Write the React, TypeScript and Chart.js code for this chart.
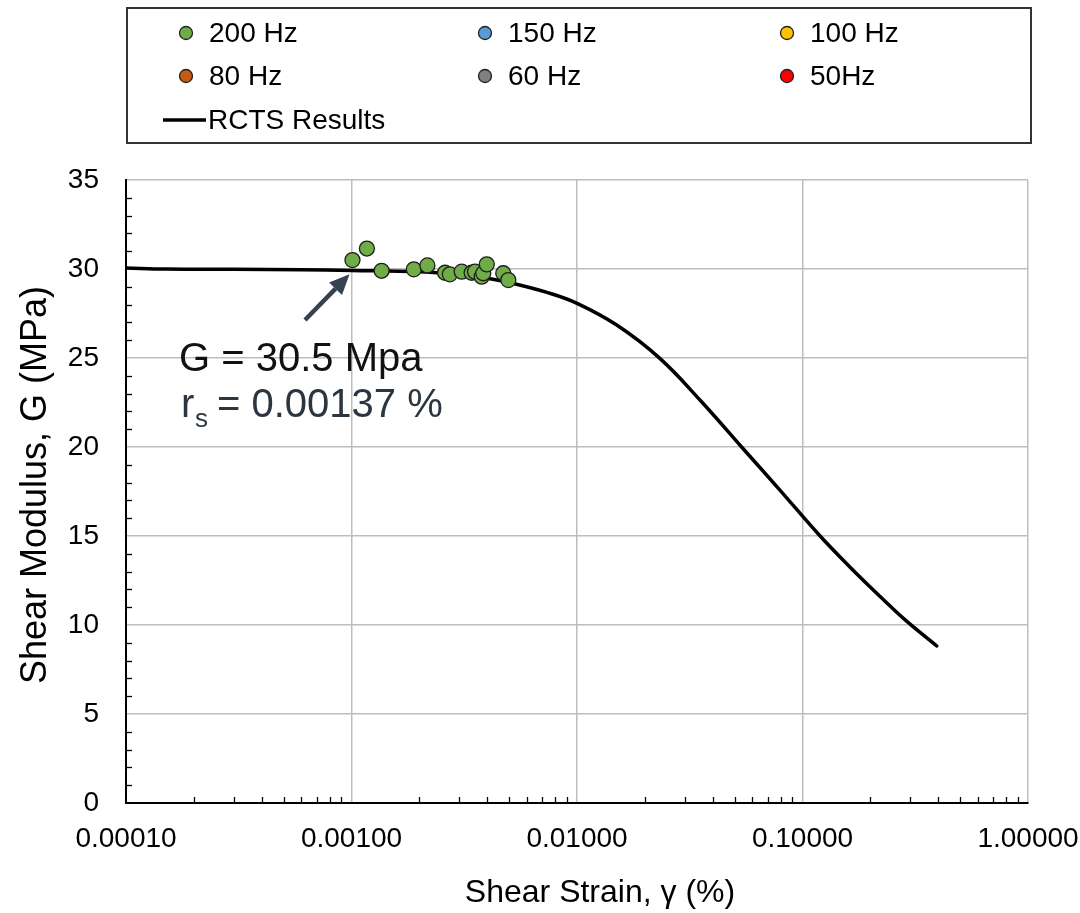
import React, { useEffect, useRef } from "react";
import { Chart, registerables } from "chart.js";

Chart.register(...registerables);

// ---- data ----
const strain200 = [0.00101, 0.00117, 0.00136, 0.00189, 0.00217, 0.0026, 0.00273, 0.00308, 0.00341, 0.00353, 0.00378, 0.00384, 0.00398, 0.00471, 0.00496];
const modulus200 = [30.5, 31.15, 29.9, 29.98, 30.2, 29.79, 29.7, 29.85, 29.79, 29.85, 29.57, 29.76, 30.26, 29.76, 29.38];
const strain150: number[] = [];
const modulus150: number[] = [];
const strain100: number[] = [];
const modulus100: number[] = [];
const strain80: number[] = [];
const modulus80: number[] = [];
const strain60: number[] = [];
const modulus60: number[] = [];
const strain50: number[] = [];
const modulus50: number[] = [];

const rctsStrain = [0.0001, 0.00015, 0.0003, 0.0006, 0.001, 0.002, 0.003, 0.004, 0.005, 0.0076, 0.01, 0.015, 0.0233, 0.0351, 0.0537, 0.0794, 0.1197, 0.1626, 0.221, 0.2844, 0.394];
const rctsG = [30.06, 30.0, 29.98, 29.96, 29.92, 29.85, 29.67, 29.48, 29.24, 28.63, 28.07, 26.85, 24.98, 22.64, 20.0, 17.58, 15.0, 13.25, 11.6, 10.3, 8.82];

const yTickLabels = [0, 5, 10, 15, 20, 25, 30, 35];
const xTickLabels = [0.0001, 0.001, 0.01, 0.1, 1];

const FONT = "'Liberation Sans', Arial, sans-serif";

const pts = (xs: number[], ys: number[]) => xs.map((x, i) => ({ x, y: ys[i] }));
const isDecade = (v: number) => Math.abs(Math.log10(v) - Math.round(Math.log10(v))) < 1e-9;

const decorPlugin = {
  id: "decor",
  afterDraw(chart: any) {
    const ctx = chart.ctx as CanvasRenderingContext2D;
    const xs = chart.scales.x;
    const ys = chart.scales.y;
    const area = chart.chartArea;
    ctx.save();

    // minor ticks (inward)
    ctx.strokeStyle = "#000";
    ctx.lineWidth = 1.3;
    for (let d = -4; d < 0; d++) {
      for (let m = 2; m <= 9; m++) {
        const px = Math.round(xs.getPixelForValue(m * Math.pow(10, d))) + 0.5;
        ctx.beginPath();
        ctx.moveTo(px, area.bottom);
        ctx.lineTo(px, area.bottom - 6);
        ctx.stroke();
      }
    }
    for (let v = 1; v < 35; v++) {
      if (v % 5 === 0) continue;
      const py = Math.round(ys.getPixelForValue(v)) + 0.5;
      ctx.beginPath();
      ctx.moveTo(area.left, py);
      ctx.lineTo(area.left + 6, py);
      ctx.stroke();
    }

    // legend box
    ctx.strokeStyle = "#333";
    ctx.lineWidth = 2;
    ctx.strokeRect(127, 8, 904, 135);
    const cols = [186, 485, 787];
    const rows = [33, 76, 120];
    ctx.font = `28px ${FONT}`;
    ctx.textBaseline = "middle";
    ctx.textAlign = "left";
    chart.data.datasets.forEach((ds: any, i: number) => {
      const r = Math.floor(i / 3);
      const c = i % 3;
      const cx = cols[c];
      const cy = rows[r];
      if (ds.showLine) {
        ctx.strokeStyle = "#000";
        ctx.lineWidth = 3.5;
        ctx.beginPath();
        ctx.moveTo(163, cy);
        ctx.lineTo(206, cy);
        ctx.stroke();
        ctx.fillStyle = "#000";
        ctx.fillText(ds.label, 208, cy + 1);
      } else {
        ctx.beginPath();
        ctx.arc(cx, cy, 6.5, 0, Math.PI * 2);
        ctx.fillStyle = ds.backgroundColor;
        ctx.fill();
        ctx.lineWidth = 1.3;
        ctx.strokeStyle = "#222";
        ctx.stroke();
        ctx.fillStyle = "#000";
        ctx.fillText(ds.label, cx + 23, cy + 1);
      }
    });

    // axis titles
    ctx.fillStyle = "#000";
    ctx.font = `32px ${FONT}`;
    ctx.textAlign = "center";
    ctx.textBaseline = "middle";
    ctx.fillText("Shear Strain, \u03b3 (%)", 600, 893);
    ctx.save();
    ctx.translate(36, 485);
    ctx.rotate(-Math.PI / 2);
    ctx.font = `36px ${FONT}`;
    ctx.fillText("Shear Modulus, G (MPa)", 0, 0);
    ctx.restore();

    // annotation arrow
    const tipX = xs.getPixelForValue(0.00098);
    const tipY = ys.getPixelForValue(29.7);
    const tailX = 305;
    const tailY = 320;
    const ang = Math.atan2(tipY - tailY, tipX - tailX);
    const headLen = 20;
    const baseX = tipX - headLen * Math.cos(ang);
    const baseY = tipY - headLen * Math.sin(ang);
    ctx.strokeStyle = "#36424f";
    ctx.fillStyle = "#36424f";
    ctx.lineWidth = 4.5;
    ctx.beginPath();
    ctx.moveTo(tailX, tailY);
    ctx.lineTo(baseX, baseY);
    ctx.stroke();
    ctx.beginPath();
    ctx.moveTo(tipX, tipY);
    ctx.lineTo(baseX + 9 * Math.sin(ang), baseY - 9 * Math.cos(ang));
    ctx.lineTo(baseX - 9 * Math.sin(ang), baseY + 9 * Math.cos(ang));
    ctx.closePath();
    ctx.fill();

    // annotation text
    ctx.textAlign = "left";
    ctx.textBaseline = "alphabetic";
    ctx.fillStyle = "#111";
    ctx.font = `40px ${FONT}`;
    ctx.fillText("G = 30.5 Mpa", 179, 371);
    ctx.fillStyle = "#2b3640";
    ctx.fillText("r", 181, 417);
    ctx.font = `26px ${FONT}`;
    ctx.fillText("s", 195, 427);
    ctx.font = `40px ${FONT}`;
    ctx.fillText("= 0.00137 %", 217, 417);

    ctx.restore();
  },
};

export default function App() {
  const ref = useRef<HTMLCanvasElement | null>(null);
  useEffect(() => {
    if (!ref.current) return;
    const markerDs = (label: string, xs: number[], ys: number[], color: string) => ({
      label,
      data: pts(xs, ys),
      backgroundColor: color,
      borderColor: "#1e1e1e",
      borderWidth: 1.3,
      pointRadius: 7.5,
      showLine: false,
    });
    const chart = new Chart(ref.current, {
      type: "scatter",
      data: {
        datasets: [
          markerDs("200 Hz", strain200, modulus200, "#70ad47"),
          markerDs("150 Hz", strain150, modulus150, "#5b9bd5"),
          markerDs("100 Hz", strain100, modulus100, "#ffc000"),
          markerDs("80 Hz", strain80, modulus80, "#c55a11"),
          markerDs("60 Hz", strain60, modulus60, "#7f7f7f"),
          markerDs("50Hz", strain50, modulus50, "#ff0000"),
          {
            label: "RCTS Results",
            data: pts(rctsStrain, rctsG),
            showLine: true,
            borderColor: "#000",
            backgroundColor: "#000",
            borderWidth: 3.5,
            pointRadius: 0,
            tension: 0.4,
            borderCapStyle: "round",
          } as any,
        ],
      },
      options: {
        responsive: false,
        animation: false,
        devicePixelRatio: 1,
        layout: { padding: { top: 180, right: 52, left: 0, bottom: 0 } },
        plugins: { legend: { display: false }, tooltip: { enabled: false }, title: { display: false } },
        scales: {
          x: {
            type: "logarithmic",
            min: 0.0001,
            max: 1,
            afterBuildTicks: (scale: any) => {
              const t: any[] = [];
              for (let d = -4; d < 0; d++) for (let m = 1; m <= 9; m++) t.push({ value: m * Math.pow(10, d) });
              t.push({ value: 1 });
              scale.ticks = t;
            },
            afterFit: (scale: any) => {
              scale.height = 110;
              scale.paddingLeft = 0;
              scale.paddingRight = 0;
            },
            grid: {
              drawTicks: false,
              lineWidth: 1.5,
              color: (c: any) => (c.tick && isDecade(c.tick.value) && c.tick.value > 0.00011 ? "#bdbdbd" : "rgba(0,0,0,0)"),
            },
            border: { color: "#000", width: 2 },
            ticks: {
              autoSkip: false,
              maxRotation: 0,
              padding: 19,
              color: "#000",
              font: { family: FONT, size: 28 },
              callback: (v: any) => {
                const n = Number(v);
                return xTickLabels.some((t) => Math.abs(t - n) / t < 1e-6) ? n.toFixed(5) : "";
              },
            },
          },
          y: {
            type: "linear",
            min: 0,
            max: 35,
            afterBuildTicks: (scale: any) => {
              const t: any[] = [];
              for (let v = 0; v <= 35; v++) t.push({ value: v });
              scale.ticks = t;
            },
            afterFit: (scale: any) => {
              scale.width = 126;
            },
            grid: {
              drawTicks: false,
              lineWidth: 1.5,
              color: (c: any) => (c.tick && c.tick.value % 5 === 0 && c.tick.value !== 0 ? "#bdbdbd" : "rgba(0,0,0,0)"),
            },
            border: { color: "#000", width: 2 },
            ticks: {
              autoSkip: false,
              padding: 27,
              color: "#000",
              font: { family: FONT, size: 28 },
              callback: (v: any) => (yTickLabels.includes(Number(v)) ? String(v) : ""),
            },
          },
        },
      },
      plugins: [decorPlugin],
    });
    return () => chart.destroy();
  }, []);

  return (
    <div style={{ position: "absolute", left: 0, top: 0, width: 1080, height: 913, background: "#fff" }}>
      <canvas ref={ref} width={1080} height={913} style={{ width: 1080, height: 913, display: "block" }} />
    </div>
  );
}
